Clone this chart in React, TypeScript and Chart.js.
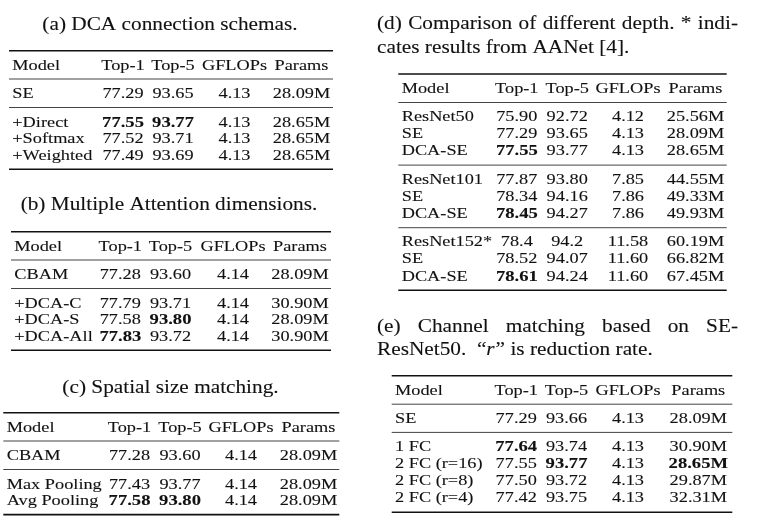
import React, { useEffect, useRef } from "react";
import { Chart, registerables } from "chart.js";

Chart.register(...registerables);

// ---------------- data ----------------
const headers = ["Model", "Top-1", "Top-5", "GFLOPs", "Params"];

const aTitle = "(a) DCA connection schemas.";
const aModels = ["SE", "+Direct", "+Softmax", "+Weighted"];
const aTop1 = ["77.29", "77.55", "77.52", "77.49"];
const aTop5 = ["93.65", "93.77", "93.71", "93.69"];
const aGflops = ["4.13", "4.13", "4.13", "4.13"];
const aParams = ["28.09M", "28.65M", "28.65M", "28.65M"];
const aGroups = [1, 3];
const aBold = ["1,1", "1,2"];

const bTitle = "(b) Multiple Attention dimensions.";
const bModels = ["CBAM", "+DCA-C", "+DCA-S", "+DCA-All"];
const bTop1 = ["77.28", "77.79", "77.58", "77.83"];
const bTop5 = ["93.60", "93.71", "93.80", "93.72"];
const bGflops = ["4.14", "4.14", "4.14", "4.14"];
const bParams = ["28.09M", "30.90M", "28.09M", "30.90M"];
const bGroups = [1, 3];
const bBold = ["2,2", "3,1"];

const cTitle = "(c) Spatial size matching.";
const cModels = ["CBAM", "Max Pooling", "Avg Pooling"];
const cTop1 = ["77.28", "77.43", "77.58"];
const cTop5 = ["93.60", "93.77", "93.80"];
const cGflops = ["4.14", "4.14", "4.14"];
const cParams = ["28.09M", "28.09M", "28.09M"];
const cGroups = [1, 2];
const cBold = ["2,1", "2,2"];

const dTitle1 = ["(d)", "Comparison", "of", "different", "depth.", "*", "indi-"];
const dTitle2 = "cates results from AANet [4].";
const dModels = ["ResNet50", "SE", "DCA-SE", "ResNet101", "SE", "DCA-SE", "ResNet152*", "SE", "DCA-SE"];
const dTop1 = ["75.90", "77.29", "77.55", "77.87", "78.34", "78.45", "78.4", "78.52", "78.61"];
const dTop5 = ["92.72", "93.65", "93.77", "93.80", "94.16", "94.27", "94.2", "94.07", "94.24"];
const dGflops = ["4.12", "4.13", "4.13", "7.85", "7.86", "7.86", "11.58", "11.60", "11.60"];
const dParams = ["25.56M", "28.09M", "28.65M", "44.55M", "49.33M", "49.93M", "60.19M", "66.82M", "67.45M"];
const dGroups = [3, 3, 3];
const dBold = ["2,1", "5,1", "8,1"];

const eTitle1 = ["(e)", "Channel", "matching", "based", "on", "SE-"];
const eTitle2a = "ResNet50.  \u201C";
const eTitle2r = "r";
const eTitle2b = "\u201D is reduction rate.";
const eModels = ["SE", "1 FC", "2 FC (r=16)", "2 FC (r=8)", "2 FC (r=4)"];
const eTop1 = ["77.29", "77.64", "77.55", "77.50", "77.42"];
const eTop5 = ["93.66", "93.74", "93.77", "93.72", "93.75"];
const eGflops = ["4.13", "4.13", "4.13", "4.13", "4.13"];
const eParams = ["28.09M", "30.90M", "28.65M", "29.87M", "32.31M"];
const eGroups = [1, 4];
const eBold = ["1,1", "2,2", "2,4"];

// ---------------- layout / style ----------------
const FAMILY = '"Liberation Serif", "Times New Roman", serif';
const CELL_SIZE = 15;
const CELL_SX = 1.22;
const BOLD_SX = 1.24;
const TITLE_SIZE = 19;
const TITLE_SX = 1.12;
const INK = "#111111";
const TEXT_STROKE = 0.1;

const tightRows = { pitch: 16.6, headOff: 19, hMid: 9.3, midBase: 19.2, baseMid: 9.3 };
const looseRows = { pitch: 17.2, headOff: 19.2, hMid: 9.3, midBase: 18.4, baseMid: 9.8 };

const layoutA = { left: 9, right: 333, top: 50.7, modelX: 12.3, cols: [123, 173, 234.5, 301.5], ...tightRows };
const layoutB = { left: 11, right: 331, top: 231.7, modelX: 14.3, cols: [120.3, 170.5, 233, 300], ...tightRows };
const layoutC = { left: 3.3, right: 339.3, top: 412.7, modelX: 6.7, cols: [129.5, 180, 241, 308.5], ...tightRows };
const layoutD = { left: 398.3, right: 726.7, top: 74, modelX: 401.7, cols: [516.8, 567.2, 628, 695.5], ...looseRows };
const layoutE = { left: 391.7, right: 732.3, top: 375.7, modelX: 395, cols: [516.2, 566.5, 628, 698.3], ...looseRows };

const titleA = { x: 170, y: 30 };
const titleB = { x: 169, y: 210 };
const titleC = { x: 170.5, y: 392.7 };
const titleD = { x0: 377, x1: 738, y1: 29.3, y2: 53.3 };
const titleE = { x0: 377, x1: 738, y1: 331.7, y2: 355 };

type Table = {
  models: string[];
  cols: string[][];
  groups: number[];
  bold: string[];
};

const tables: { t: Table; L: any }[] = [
  { t: { models: aModels, cols: [aTop1, aTop5, aGflops, aParams], groups: aGroups, bold: aBold }, L: layoutA },
  { t: { models: bModels, cols: [bTop1, bTop5, bGflops, bParams], groups: bGroups, bold: bBold }, L: layoutB },
  { t: { models: cModels, cols: [cTop1, cTop5, cGflops, cParams], groups: cGroups, bold: cBold }, L: layoutC },
  { t: { models: dModels, cols: [dTop1, dTop5, dGflops, dParams], groups: dGroups, bold: dBold }, L: layoutD },
  { t: { models: eModels, cols: [eTop1, eTop5, eGflops, eParams], groups: eGroups, bold: eBold }, L: layoutE },
];

function cellFont(bold: boolean) {
  return `${bold ? "bold " : ""}${CELL_SIZE}px ${FAMILY}`;
}
function titleFont(italic = false) {
  return `${italic ? "italic " : ""}${TITLE_SIZE}px ${FAMILY}`;
}

function textWidth(ctx: CanvasRenderingContext2D, text: string, font: string, sx: number) {
  ctx.save();
  ctx.font = font;
  const w = ctx.measureText(text).width * sx;
  ctx.restore();
  return w;
}

function drawText(
  ctx: CanvasRenderingContext2D,
  text: string,
  x: number,
  y: number,
  font: string,
  sx: number,
  align: "left" | "center" | "right" = "left"
) {
  ctx.save();
  ctx.font = font;
  const w = ctx.measureText(text).width * sx;
  const left = align === "center" ? x - w / 2 : align === "right" ? x - w : x;
  ctx.translate(left, y);
  ctx.scale(sx, 1);
  ctx.textAlign = "left";
  ctx.textBaseline = "alphabetic";
  ctx.fillStyle = INK;
  ctx.fillText(text, 0, 0);
  ctx.strokeStyle = INK;
  ctx.lineWidth = TEXT_STROKE;
  ctx.lineJoin = "round";
  ctx.strokeText(text, 0, 0);
  ctx.restore();
  return w;
}

const tablePlugin = {
  id: "tablePlugin",
  afterDraw(chart: any) {
    const ctx: CanvasRenderingContext2D = chart.ctx;
    const xs = chart.scales.x;
    const ys = chart.scales.y;
    const X = (v: number) => xs.getPixelForValue(v);
    const Y = (v: number) => ys.getPixelForValue(v);

    const hline = (x0: number, x1: number, y: number, thick: boolean) => {
      ctx.save();
      ctx.strokeStyle = thick ? "#111" : "#3a3a3a";
      ctx.lineWidth = thick ? 1.6 : 0.95;
      ctx.beginPath();
      ctx.moveTo(X(x0), Y(y));
      ctx.lineTo(X(x1), Y(y));
      ctx.stroke();
      ctx.restore();
    };

    // centered titles
    drawText(ctx, aTitle, X(titleA.x), Y(titleA.y), titleFont(), TITLE_SX, "center");
    drawText(ctx, bTitle, X(titleB.x), Y(titleB.y), titleFont(), TITLE_SX, "center");
    drawText(ctx, cTitle, X(titleC.x), Y(titleC.y), titleFont(), TITLE_SX, "center");

    // justified line
    const justify = (words: string[], x0: number, x1: number, y: number) => {
      const ws = words.map((w) => textWidth(ctx, w, titleFont(), TITLE_SX));
      const total = ws.reduce((s, v) => s + v, 0);
      const gap = (X(x1) - X(x0) - total) / (words.length - 1);
      let x = X(x0);
      words.forEach((w, i) => {
        drawText(ctx, w, x, Y(y), titleFont(), TITLE_SX, "left");
        x += ws[i] + gap;
      });
    };
    justify(dTitle1, titleD.x0, titleD.x1, titleD.y1);
    drawText(ctx, dTitle2, X(titleD.x0), Y(titleD.y2), titleFont(), TITLE_SX, "left");
    justify(eTitle1, titleE.x0, titleE.x1, titleE.y1);
    let ex = X(titleE.x0);
    ex += drawText(ctx, eTitle2a, ex, Y(titleE.y2), titleFont(), TITLE_SX, "left");
    ex += drawText(ctx, eTitle2r, ex, Y(titleE.y2), titleFont(true), TITLE_SX, "left") + 1;
    drawText(ctx, eTitle2b, ex, Y(titleE.y2), titleFont(), TITLE_SX, "left");

    // tables
    tables.forEach(({ t, L }) => {
      let y = L.top;
      hline(L.left, L.right, y, true);
      const headY = y + L.headOff;
      drawText(ctx, headers[0], X(L.modelX), Y(headY), cellFont(false), CELL_SX, "left");
      for (let c = 1; c < headers.length; c++) {
        drawText(ctx, headers[c], X(L.cols[c - 1]), Y(headY), cellFont(false), CELL_SX, "center");
      }
      y = headY + L.hMid;
      hline(L.left, L.right, y, false);
      let row = 0;
      t.groups.forEach((g, gi) => {
        const base = y + L.midBase;
        for (let k = 0; k < g; k++) {
          const by = base + k * L.pitch;
          const isBold = (c: number) => t.bold.includes(`${row},${c}`);
          drawText(ctx, t.models[row], X(L.modelX), Y(by), cellFont(isBold(0)), CELL_SX, "left");
          for (let c = 1; c <= t.cols.length; c++) {
            const b = isBold(c);
            drawText(ctx, t.cols[c - 1][row], X(L.cols[c - 1]), Y(by), cellFont(b), b ? BOLD_SX : CELL_SX, "center");
          }
          row++;
        }
        const last = base + (g - 1) * L.pitch;
        y = last + L.baseMid;
        hline(L.left, L.right, y, gi === t.groups.length - 1);
      });
    });
  },
};

export default function App() {
  const ref = useRef<HTMLCanvasElement | null>(null);
  useEffect(() => {
    if (!ref.current) return;
    const chart = new Chart(ref.current, {
      type: "scatter",
      data: { datasets: [{ data: [], pointRadius: 0 }] },
      options: {
        animation: false,
        responsive: true,
        maintainAspectRatio: false,
        layout: { padding: 0 },
        plugins: { legend: { display: false }, tooltip: { enabled: false } },
        events: [],
        scales: {
          x: { type: "linear", min: 0, max: 760, display: false },
          y: { type: "linear", min: 0, max: 530, reverse: true, display: false },
        },
      },
      plugins: [tablePlugin],
    });
    return () => chart.destroy();
  }, []);
  return (
    <div style={{ position: "fixed", left: 0, top: 0, width: 760, height: 530, background: "#fff" }}>
      <canvas ref={ref} />
    </div>
  );
}
